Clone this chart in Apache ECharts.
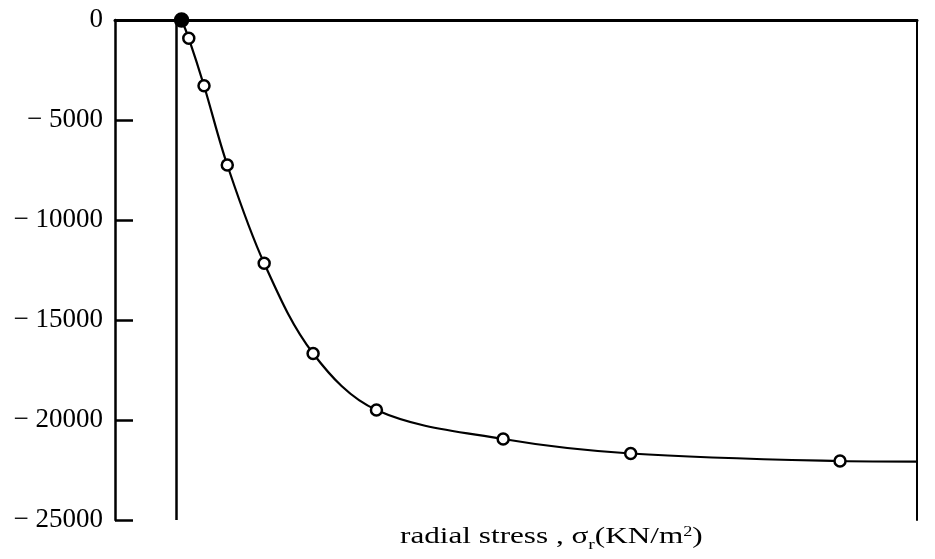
<!DOCTYPE html>
<html>
<head>
<meta charset="utf-8">
<script src="https://cdn.jsdelivr.net/npm/echarts@6/dist/echarts.min.js"></script>
<style>
html,body{margin:0;padding:0;background:#fff;}
#main{width:935px;height:559px;}
</style>
</head>
<body>
<div id="main"></div>
<script>
// Data (x in arbitrary radius units 0..100)
const radius = [8.3, 9.2, 11.1, 14.0, 18.6, 24.7, 32.6, 48.4, 64.3, 90.4];
const stress = [0, -915, -3285, -7250, -12165, -16675, -19500, -20950, -21675, -22050];
const curveEndX = 100;
const curveEndY = -22080;
const innerRadius = 7.6;
const yTicks = [0, -5000, -10000, -15000, -20000, -25000];
const xLabel = 'radial stress , σ';

const pts = radius.map((r, i) => [r, stress[i]]);
const curve = pts.concat([[curveEndX, curveEndY]]);
const scatterData = pts.map((p, i) => i === 0
  ? {value: p, symbolSize: 13, itemStyle: {color: '#000', borderColor: '#000'}}
  : {value: p});

const chart = echarts.init(document.getElementById('main'));
const font = 'Liberation Serif';
chart.setOption({
  animation: false,
  backgroundColor: '#fff',
  grid: {left: 115, right: 18, top: 20, bottom: 39},
  xAxis: [{
    type: 'value', min: 0, max: 100, position: 'top',
    axisLine: {show: true, onZero: false, lineStyle: {color: '#000', width: 3}},
    axisTick: {show: false}, axisLabel: {show: false}, splitLine: {show: false}
  }],
  yAxis: [{
    type: 'value', min: -25000, max: 0, interval: 5000, position: 'left',
    axisLine: {show: true, onZero: false, lineStyle: {color: '#000', width: 2.5}},
    axisTick: {show: true, inside: true, length: 18, lineStyle: {color: '#000', width: 2.5}},
    axisLabel: {
      margin: 12, color: '#000', fontFamily: font, fontSize: 27,
      formatter: v => {
        const t = yTicks.find(x => x === v);
        return t === 0 ? '0' : '\u2212 ' + Math.abs(t);
      }
    },
    splitLine: {show: false}
  }, {
    type: 'value', min: -25000, max: 0, interval: 5000, position: 'right',
    axisLine: {show: true, onZero: false, lineStyle: {color: '#000', width: 2}},
    axisTick: {show: false}, axisLabel: {show: false}, splitLine: {show: false}
  }],
  graphic: [{
    type: 'text', x: 400, y: 525, scaleX: 1.3,
    style: {
      text: '{a|' + xLabel + '}{s|r}{a|(KN/m}{p|2}{a|)}',
      textVerticalAlign: 'top',
      rich: {
        a: {fontFamily: font, fontSize: 24, fill: '#000', verticalAlign: 'bottom'},
        s: {fontFamily: font, fontSize: 15, fill: '#000', padding: [0, 0, -4, 0], verticalAlign: 'bottom'},
        p: {fontFamily: font, fontSize: 14, fill: '#000', padding: [0, 0, 10, 0], verticalAlign: 'bottom'}
      }
    }
  }],
  series: [{
    type: 'line', data: curve, smooth: 0.35,
    showSymbol: false, symbol: 'none',
    lineStyle: {color: '#000', width: 2.2},
    markLine: {
      silent: true, symbol: 'none', label: {show: false},
      lineStyle: {color: '#000', width: 2.5, type: 'solid'},
      data: [{xAxis: innerRadius}]
    },
    z: 2
  }, {
    type: 'scatter', data: scatterData, symbol: 'circle', symbolSize: 11,
    itemStyle: {color: '#fff', borderColor: '#000', borderWidth: 2.5, opacity: 1},
    z: 3
  }]
});
</script>
</body>
</html>
